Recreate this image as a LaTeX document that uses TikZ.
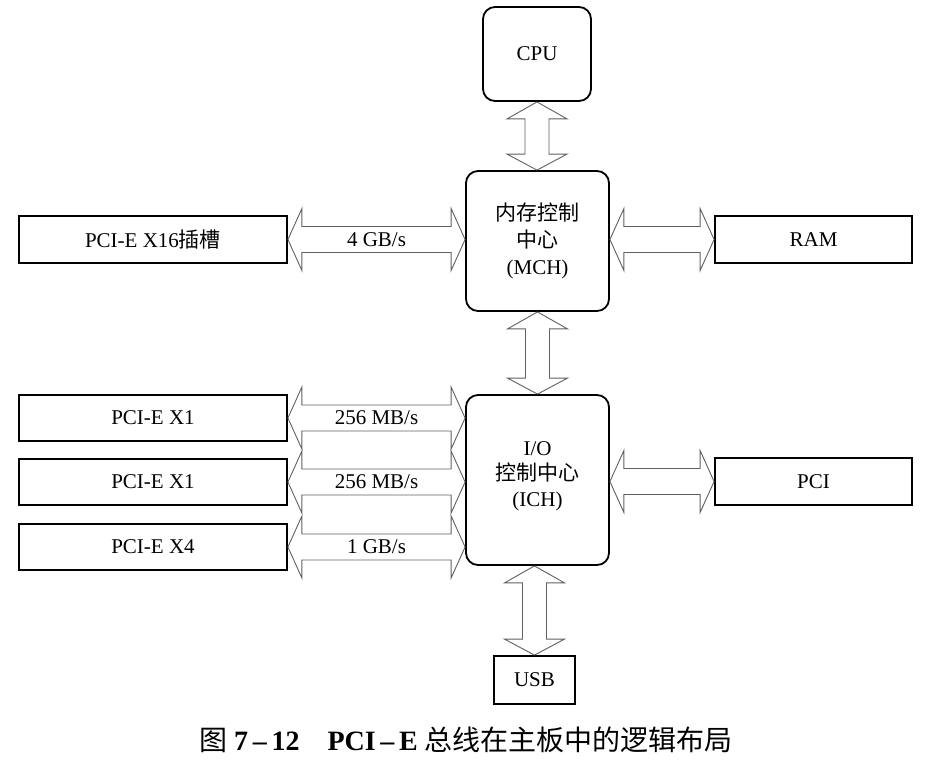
\documentclass[tikz,border=0pt]{standalone}
\usepackage{fontspec}
\setmainfont{Liberation Serif}
\newfontfamily\cjk{Noto Sans CJK SC}
\usetikzlibrary{calc}
\tikzset{
  sq/.style={draw=black, line width=1.8pt, inner sep=0pt, align=center,
    font=\fontsize{21}{25}\selectfont},
  rnd/.style={sq, rounded corners=12pt},
  arr/.style={draw=gray!75!black, line width=0.9pt, line join=miter},
  lbl/.style={inner sep=0pt, font=\fontsize{21}{24}\selectfont}
}
% horizontal double block arrow: #1 left node, #2 right node, #3 node giving y
\newcommand{\harr}[3]{%
  \draw[arr] let \p1=(#1.east), \p2=(#2.west), \p3=(#3.center) in
    (\x1,\y3) -- (\x1+14pt,\y3+31pt) -- (\x1+14pt,\y3+13pt) -- (\x2-14pt,\y3+13pt)
    -- (\x2-14pt,\y3+31pt) -- (\x2,\y3) -- (\x2-14pt,\y3-31pt) -- (\x2-14pt,\y3-13pt)
    -- (\x1+14pt,\y3-13pt) -- (\x1+14pt,\y3-31pt) -- cycle;}
% vertical double block arrow: #1 top node, #2 bottom node, #3 node giving x
\newcommand{\varr}[3]{%
  \draw[arr] let \p1=(#1.south), \p2=(#2.north), \p3=(#3.center) in
    (\x3,\y1) -- (\x3+30pt,\y1-17pt) -- (\x3+12pt,\y1-17pt) -- (\x3+12pt,\y2+16pt)
    -- (\x3+30pt,\y2+16pt) -- (\x3,\y2) -- (\x3-30pt,\y2+16pt) -- (\x3-12pt,\y2+16pt)
    -- (\x3-12pt,\y1-17pt) -- (\x3-30pt,\y1-17pt) -- cycle;}
\begin{document}
\begin{tikzpicture}[x=1pt,y=-1pt]
\useasboundingbox (0,0) rectangle (931,764);
% boxes
\node[rnd, minimum width=108pt, minimum height=94pt] (cpu) at (537,54) {CPU};
\node[rnd, minimum width=143pt, minimum height=140pt, font=\fontsize{21}{27}\selectfont] (mch) at (537.5,241)
  {{\cjk 内存控制}\\{\cjk 中心}\\(MCH)};
\node[rnd, minimum width=143pt, minimum height=170pt, font=\fontsize{21}{25.5}\selectfont] (ich) at (537.5,480)
  {I/O\\{\cjk 控制中心}\\(ICH)\\[-13.5pt]};
\node[sq, minimum width=268pt, minimum height=47pt] (x16) at (153,239.5) {PCI-E X16{\cjk 插槽}};
\node[sq, minimum width=197pt, minimum height=47pt] (ram) at (813.5,239.5) {RAM};
\node[sq, minimum width=268pt, minimum height=46pt] (e1a) at (153,418) {PCI-E X1};
\node[sq, minimum width=268pt, minimum height=46pt] (e1b) at (153,482) {PCI-E X1};
\node[sq, minimum width=268pt, minimum height=46pt] (e4) at (153,547) {PCI-E X4};
\node[sq, minimum width=197pt, minimum height=47pt] (pci) at (813.5,481.5) {PCI};
\node[sq, minimum width=81pt, minimum height=48pt] (usb) at (534.5,680) {USB};
% connectors
\varr{cpu}{mch}{cpu}
\varr{mch}{ich}{mch}
\varr{ich}{usb}{usb}
\harr{x16}{mch}{x16}
\harr{mch}{ram}{ram}
\harr{e1a}{ich}{e1a}
\harr{e1b}{ich}{e1b}
\harr{e4}{ich}{e4}
\harr{ich}{pci}{pci}
% labels
\node[lbl] (l16) at ($(x16.east)!0.5!(x16.east -| mch.west)$) {4 GB/s};
\node[lbl] (l1a) at ($(e1a.east)!0.5!(e1a.east -| ich.west)$) {256 MB/s};
\node[lbl] (l1b) at ($(e1b.east)!0.5!(e1b.east -| ich.west)$) {256 MB/s};
\node[lbl] (l4) at ($(e4.east)!0.5!(e4.east -| ich.west)$) {1 GB/s};
% caption
\node[inner sep=0pt, font=\fontsize{28}{32}\selectfont] (cap) at (466,740)
  {{\cjk 图}\ \textbf{7\,–\,12}\hspace{1em}\textbf{PCI\,–\,E}\ {\cjk 总线在主板中的逻辑布局}};
\end{tikzpicture}
\end{document}
